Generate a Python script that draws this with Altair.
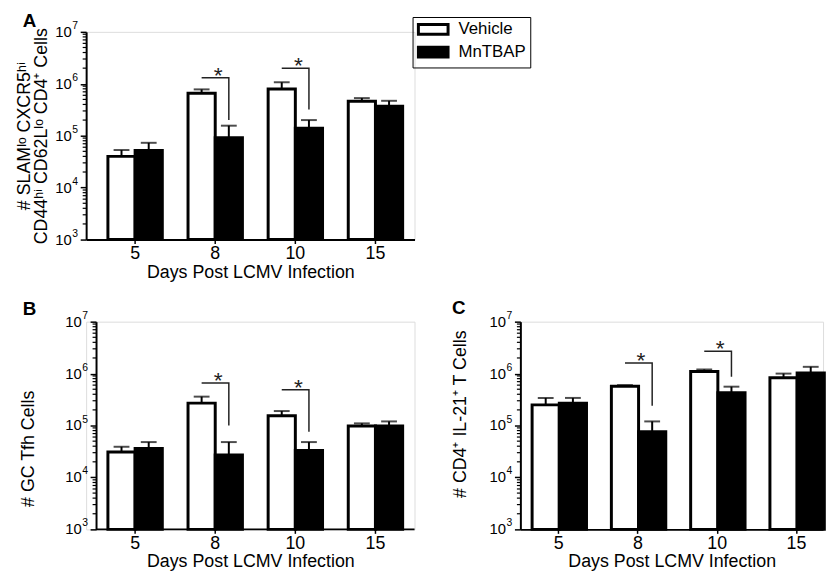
import altair as alt
import pandas as pd

FONT = "Liberation Sans"

days = ["5", "8", "10", "15"]
groups = ["Vehicle", "MnTBAP"]

# Panel A
a_vehicle = [4.0e4, 6.6e5, 7.9e5, 4.6e5]
a_vehicle_err = [5.3e4, 7.8e5, 1.07e6, 5.3e5]
a_mntbap = [5.2e4, 9.1e4, 1.4e5, 3.7e5]
a_mntbap_err = [7.3e4, 1.56e5, 2.0e5, 4.7e5]

# Panel B
b_vehicle = [3.1e4, 2.7e5, 1.55e5, 9.8e4]
b_vehicle_err = [3.9e4, 3.6e5, 1.9e5, 1.1e5]
b_mntbap = [3.6e4, 2.7e4, 3.3e4, 9.8e4]
b_mntbap_err = [4.8e4, 4.8e4, 4.8e4, 1.2e5]

# Panel C
c_vehicle = [2.5e5, 5.7e5, 1.1e6, 8.3e5]
c_vehicle_err = [3.4e5, 6.0e5, 1.2e6, 1.0e6]
c_mntbap = [2.7e5, 7.6e4, 4.3e5, 1.03e6]
c_mntbap_err = [3.4e5, 1.2e5, 5.6e5, 1.35e6]

# significance brackets
sig_days = ["8", "10"]
a_sig_level = [1.3e6, 2.0e6]
a_sig_drop = [2.0e5, 3.2e5]
b_sig_level = [6.6e5, 4.9e5]
b_sig_drop = [1.0e5, 7.6e4]
c_sig_level = [1.6e6, 2.7e6]
c_sig_drop = [2.4e5, 8.7e5]

# y axis ticks / labels
major_ticks = [1e3, 1e4, 1e5, 1e6, 1e7]
tick_base = ["10", "10", "10", "10", "10"]
tick_exp = ["3", "4", "5", "6", "7"]
minor_ticks = [m * 10 ** e for e in range(3, 7) for m in range(2, 10)]


def bar_df(veh, veh_err, mn, mn_err):
    rows = []
    for i, d in enumerate(days):
        rows.append(dict(day=d, group="Vehicle", value=veh[i], err=veh_err[i]))
        rows.append(dict(day=d, group="MnTBAP", value=mn[i], err=mn_err[i]))
    return pd.DataFrame(rows)


def sig_df(level, drop):
    rows = []
    for i, d in enumerate(sig_days):
        rows.append(dict(day=d, group="Vehicle", value=level[i], ord=0, id=d))
        rows.append(dict(day=d, group="MnTBAP", value=level[i], ord=1, id=d))
        rows.append(dict(day=d, group="MnTBAP", value=drop[i], ord=2, id=d))
    return pd.DataFrame(rows)


def star_df(level):
    return pd.DataFrame(dict(day=sig_days, value=level, star=["*"] * len(sig_days)))


tick_df = pd.DataFrame(dict(value=major_ticks, base=tick_base, exp=tick_exp))
minor_df = pd.DataFrame(dict(value=minor_ticks))
baseline_df = pd.DataFrame(dict(value=[major_ticks[0]]))


def panel(bars, sig, stars, ytitle, width, height, pi, po, align,
          tx, ty, letter, lx, ly, legend=None, ext=None, yoff=0):
    xaxis = alt.Axis(title="Days Post LCMV Infection", labelAngle=0,
                     labelFontSize=18, labelFont=FONT, labelColor="black",
                     labelPadding=1, ticks=True, tickSize=4, tickWidth=1.5,
                     tickColor="black", domain=(yoff == 0), domainColor="black",
                     domainWidth=2, titleFontSize=18, titleFont=FONT,
                     titleFontWeight="normal", titleColor="black", titlePadding=1,
                     grid=False)
    yaxis_kw = dict(values=major_ticks, labels=False, offset=-yoff,
                    tickSize=6, tickWidth=1.5, tickColor="black", domainColor="black",
                    domainWidth=2, title=ytitle, titleFontSize=18, titleFont=FONT,
                    titleFontWeight="normal", titleColor="black",
                    titleX=tx, titleBaseline="alphabetic", titleLineHeight=17,
                    grid=False)
    if ty is not None:
        yaxis_kw["titleY"] = ty
    yaxis = alt.Axis(**yaxis_kw)
    xs = alt.X("day:N", sort=days,
               scale=alt.Scale(paddingInner=pi, paddingOuter=po, align=align),
               axis=xaxis)
    xo = alt.XOffset("group:N", sort=groups,
                     scale=alt.Scale(domain=groups, paddingInner=0, paddingOuter=0))
    yscale = alt.Scale(type="log", domain=[1e3, 1e7])
    ys = alt.Y("value:Q", scale=yscale, axis=yaxis)

    fill = alt.Fill("group:N", scale=alt.Scale(domain=groups, range=["white", "black"]),
                    legend=legend)

    bar = alt.Chart(bars).mark_bar(stroke="black", strokeWidth=3).encode(
        x=xs, xOffset=xo, y=ys, y2=alt.datum(1000), fill=fill)
    err = alt.Chart(bars).mark_rule(color="black", strokeWidth=2).encode(
        x=xs, xOffset=xo, y=ys, y2=alt.Y2("err:Q"))
    cap = alt.Chart(bars).mark_tick(color="black", thickness=2, size=16,
                                    orient="horizontal").encode(
        x=xs, xOffset=xo, y=alt.Y("err:Q", scale=yscale, axis=yaxis))
    line = alt.Chart(sig).mark_line(color="#222222", strokeWidth=1.5).encode(
        x=xs, xOffset=xo, y=ys, detail="id:N", order="ord:Q")
    star = alt.Chart(stars).mark_text(fontSize=23, font=FONT, color="#222222",
                                      baseline="alphabetic", dy=5, dx=3).encode(
        x=xs, y=ys, text="star:N")
    minor = alt.Chart(minor_df).mark_rule(color="black", strokeWidth=1.2).encode(
        y=ys, x=alt.value(yoff - 3.5), x2=alt.value(yoff))
    base = alt.Chart(tick_df).mark_text(fontSize=15, font=FONT, color="black",
                                        align="right", baseline="middle").encode(
        y=ys, x=alt.value(yoff - 14.5), text="base:N")
    expo = alt.Chart(tick_df).mark_text(fontSize=10.5, font=FONT, color="black",
                                        align="left", baseline="middle", dy=-6).encode(
        y=ys, x=alt.value(yoff - 14), text="exp:N")
    lab = alt.Chart(pd.DataFrame({"t": [letter]})).mark_text(
        fontSize=19, fontWeight="bold", font=FONT, align="left",
        baseline="alphabetic", color="black").encode(
        text="t:N", x=alt.value(lx), y=alt.value(ly))
    layers = [bar, err, cap, line, star, minor, base, expo, lab]
    if yoff:
        # x-axis baseline starting at the (inset) y axis
        layers.insert(0, alt.Chart(baseline_df).mark_rule(
            color="black", strokeWidth=2).encode(
            y=ys, x=alt.value(yoff), x2=alt.value(width)))
    if ext is not None:
        # transparent zero-length rule that only fixes this panel's left margin
        layers.append(alt.Chart(pd.DataFrame({"t": [letter]})).mark_rule(
            strokeOpacity=0, strokeWidth=1).encode(
            x=alt.value(ext), x2=alt.value(ext), y=alt.value(0), y2=alt.value(1)))
    return alt.layer(*layers).properties(width=width, height=height)


legendA = alt.Legend(orient="none", legendX=330, legendY=-15, title=None,
                     symbolType="M-2.5,-0.8333H2.5V0.8333H-2.5Z", symbolSize=144,
                     symbolStrokeWidth=3, symbolStrokeColor="black",
                     labelFontSize=17, labelFont=FONT, labelColor="black",
                     labelOffset=17, symbolOffset=8.4, strokeColor="black",
                     padding=4, rowPadding=0, direction="vertical")

H = 210
A = panel(bar_df(a_vehicle, a_vehicle_err, a_mntbap, a_mntbap_err),
          sig_df(a_sig_level, a_sig_drop), star_df(a_sig_level),
          ["# SLAM\u02e1\u1d52 CXCR5\u02b0\u2071", "CD44\u02b0\u2071 CD62L\u02e1\u1d52 CD4\u207a Cells"],
          332, H, 0.321, 0.21, 0.647, -57, None, "A", -64, -5, legendA, ext=-78)
B = panel(bar_df(b_vehicle, b_vehicle_err, b_mntbap, b_mntbap_err),
          sig_df(b_sig_level, b_sig_drop), star_df(b_sig_level),
          "# GC Tfh Cells", 332, H, 0.321, 0.21, 0.647, -63, 128, "B", -64, -7,
          yoff=10)
C = panel(bar_df(c_vehicle, c_vehicle_err, c_mntbap, c_mntbap_err),
          sig_df(c_sig_level, c_sig_drop), star_df(c_sig_level),
          "# CD4\u207a IL-21\u207a T Cells", 306, H, 0.33, 0.074, 1.0, -55, 93, "C", -69, -8,
          ext=-70)

chart = alt.vconcat(A, alt.hconcat(B, C, spacing=34), spacing=16).properties(
    padding={"left": 0, "top": 0, "right": 0, "bottom": 0}
).configure_view(stroke=None, strokeWidth=0).configure(background="white")

chart.save("out.html", embed_options={"renderer": "svg", "actions": False})
